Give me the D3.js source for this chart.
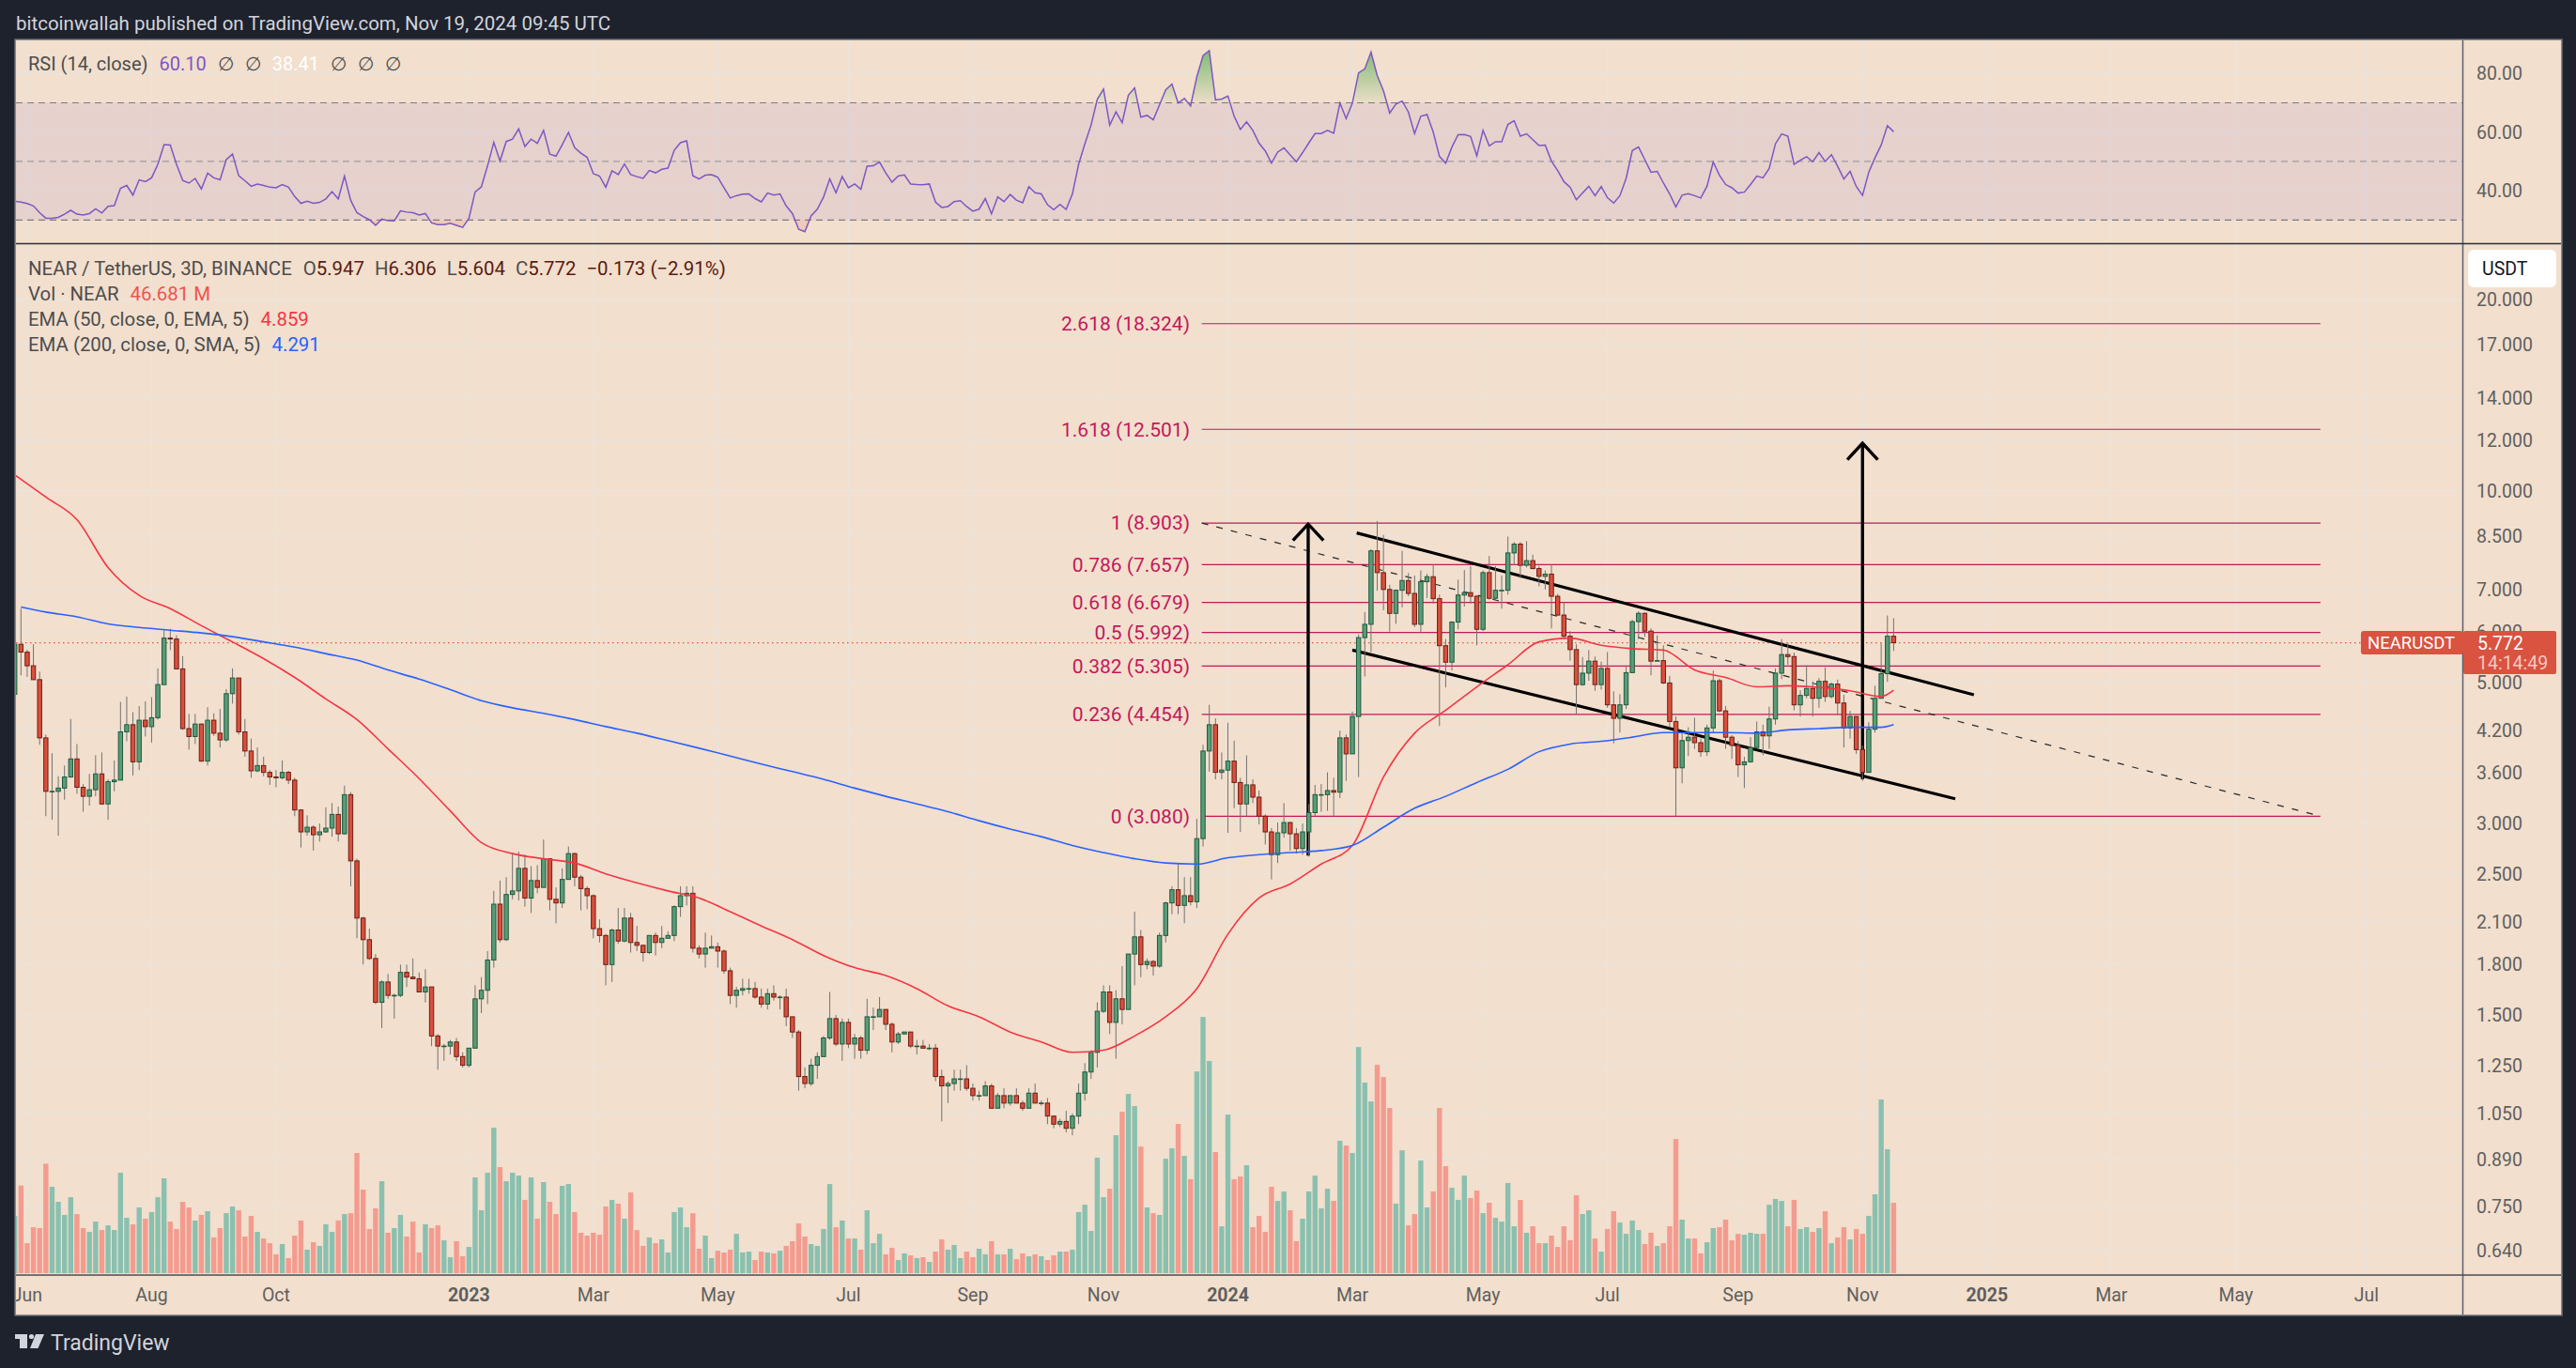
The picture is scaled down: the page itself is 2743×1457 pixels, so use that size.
<!DOCTYPE html>
<html>
<head>
<meta charset="utf-8">
<script src="https://d3js.org/d3.v7.min.js"></script>
<style>
  html, body { margin: 0; padding: 0; background: #1e222d; }
  svg { display: block; }
  text { font-family: Roboto, "Liberation Sans", sans-serif; }
</style>
</head>
<body>
<svg id="chart"></svg>
<script>
var width = 2743;
var height = 1457;

// NEAR / USDT, 3 day bars. opens follow the previous close
var firstOpen = 4.79;
var closes = [5.74,5.58,5.31,5.05,4.09,3.37,3.37,3.41,3.55,3.79,3.42,3.31,3.39,3.59,3.22,3.49,3.51,4.18,4.29,3.75,4.36,4.26,4.40,4.96,5.87,5.85,5.25,4.23,4.11,4.30,3.76,4.36,4.16,4.06,4.80,5.08,4.18,3.90,3.63,3.70,3.61,3.55,3.54,3.61,3.51,3.15,2.91,2.96,2.88,2.91,2.95,3.10,2.89,3.33,2.62,2.13,1.97,1.84,1.57,1.69,1.61,1.61,1.75,1.72,1.71,1.63,1.66,1.39,1.34,1.34,1.36,1.29,1.25,1.33,1.59,1.64,1.83,2.24,1.97,2.32,2.35,2.55,2.29,2.44,2.38,2.64,2.28,2.25,2.45,2.69,2.47,2.37,2.31,2.05,2.00,1.80,2.04,1.96,2.13,1.95,1.93,1.88,2.00,1.95,
  1.98,2.00,2.22,2.31,2.33,1.91,1.87,1.91,1.92,1.89,1.76,1.61,1.64,1.65,1.65,1.60,1.56,1.62,1.60,1.60,1.49,1.41,1.20,1.17,1.25,1.29,1.38,1.48,1.35,1.46,1.35,1.38,1.32,1.49,1.49,1.53,1.45,1.36,1.40,1.41,1.34,1.34,1.33,1.33,1.20,1.16,1.17,1.19,1.19,1.15,1.12,1.12,1.16,1.07,1.12,1.09,1.12,1.09,1.07,1.13,1.09,1.09,1.04,1.01,1.02,0.995,1.04,1.13,1.22,1.31,1.52,1.63,1.46,1.59,1.53,1.87,1.99,1.80,1.82,1.79,2.00,2.25,2.36,2.23,2.31,2.26,
  2.84,3.90,4.29,3.61,3.64,3.76,3.48,3.22,3.45,3.30,3.08,2.91,2.68,2.90,3.01,2.89,2.74,2.91,3.12,3.33,3.33,3.38,3.36,4.09,3.86,4.42,5.88,6.17,8.05,7.44,7.00,6.42,6.98,7.23,6.90,6.17,7.20,7.33,6.77,5.71,5.38,6.22,6.86,6.92,6.83,6.06,7.44,6.78,6.98,6.98,7.99,8.25,7.64,7.77,7.55,7.34,7.40,6.83,6.38,5.91,5.63,
  4.96,5.17,5.40,4.96,5.26,4.61,4.39,4.61,5.18,6.23,6.42,6.02,5.40,5.41,4.99,4.34,3.67,4.05,4.10,4.02,3.89,4.24,5.03,4.51,4.10,3.98,3.71,3.75,3.95,4.18,4.12,4.38,5.17,5.53,5.49,4.61,4.77,4.89,4.72,5.02,4.75,4.97,4.64,4.24,4.42,3.92,3.61,4.22,4.72,5.16,5.91,5.772];
var highs = [5.85,6.53,5.63,5.74,5.20,4.14,3.87,3.56,3.70,4.38,4.00,3.46,3.59,3.84,3.88,3.52,3.77,4.66,4.75,4.49,4.59,4.67,4.74,5.26,6.04,6.07,5.93,5.50,4.46,4.46,4.31,4.57,4.47,4.54,4.88,5.26,5.08,4.38,4.08,3.95,3.82,3.64,3.64,3.77,3.63,3.54,3.16,3.09,2.98,3.00,3.18,3.23,3.19,3.44,3.36,2.64,2.14,2.05,1.87,1.70,1.74,1.62,1.80,1.80,1.84,1.75,1.77,1.66,1.40,1.35,1.37,1.38,1.31,1.33,1.67,1.72,1.89,2.35,2.44,2.47,2.70,2.71,2.68,2.57,2.58,2.83,2.64,2.38,2.55,2.76,2.70,2.49,2.39,2.32,2.12,2.01,2.05,2.21,2.21,2.17,2.07,1.93,2.00,2.02,
  2.07,2.03,2.23,2.39,2.39,2.39,1.93,2.02,2.00,1.95,1.90,1.78,1.66,1.71,1.71,1.69,1.65,1.65,1.67,1.61,1.65,1.49,1.42,1.24,1.28,1.31,1.39,1.63,1.50,1.48,1.48,1.40,1.39,1.59,1.54,1.60,1.53,1.46,1.41,1.41,1.41,1.37,1.37,1.35,1.35,1.23,1.18,1.23,1.23,1.25,1.17,1.14,1.18,1.17,1.13,1.15,1.12,1.15,1.10,1.15,1.17,1.10,1.11,1.04,1.03,1.06,1.05,1.17,1.26,1.32,1.57,1.67,1.67,1.64,1.79,1.87,2.18,2.04,1.84,1.83,2.02,2.26,2.39,2.60,2.47,2.47,
  3.05,3.99,4.61,4.39,3.88,4.32,4.05,3.54,3.84,3.52,3.38,3.10,2.95,3.01,3.23,3.02,2.95,3.00,3.22,3.45,3.46,3.61,3.54,4.20,4.14,4.50,5.95,6.45,8.10,8.97,8.53,7.12,7.00,8.05,7.43,7.36,7.50,7.41,7.67,6.87,5.85,6.24,7.25,7.51,7.62,6.85,7.50,7.90,7.62,7.36,8.48,8.31,8.31,8.34,7.94,7.62,7.50,7.67,6.89,6.68,6.02,
  5.74,5.48,5.62,5.49,5.39,5.58,4.84,4.79,5.31,6.27,6.47,6.44,6.08,5.93,5.72,5.12,4.42,4.17,4.25,4.40,4.08,4.29,5.22,5.07,4.59,4.13,4.04,3.82,4.10,4.34,4.29,4.58,5.26,5.85,5.77,5.57,4.86,5.32,5.02,5.08,5.28,5.00,5.05,4.78,4.51,4.42,3.98,4.33,4.94,5.76,6.37,6.306];
var lows = [4.71,5.13,5.10,5.05,3.99,3.08,3.04,2.87,3.27,3.54,3.34,3.13,3.20,3.31,3.21,3.04,3.37,3.51,4.04,3.57,3.64,4.11,4.02,4.37,4.96,5.62,5.24,4.21,3.92,4.00,3.75,3.70,4.12,3.95,4.03,4.63,4.14,3.82,3.54,3.61,3.56,3.45,3.42,3.52,3.46,3.08,2.75,2.87,2.72,2.81,2.90,2.86,2.81,2.88,2.39,1.98,1.80,1.83,1.56,1.43,1.59,1.48,1.60,1.66,1.71,1.63,1.57,1.34,1.23,1.27,1.30,1.27,1.24,1.24,1.33,1.51,1.56,1.78,1.95,1.96,2.28,2.27,2.22,2.17,2.33,2.38,2.19,2.09,2.21,2.45,2.39,2.19,2.20,1.98,1.95,1.67,1.69,1.94,1.95,1.88,1.89,1.82,1.87,1.86,
  1.91,1.98,1.96,2.14,2.23,1.88,1.84,1.78,1.91,1.78,1.74,1.56,1.54,1.61,1.62,1.59,1.54,1.53,1.58,1.53,1.44,1.38,1.14,1.15,1.16,1.19,1.29,1.37,1.34,1.27,1.33,1.28,1.28,1.30,1.42,1.49,1.42,1.31,1.35,1.40,1.33,1.30,1.33,1.32,1.18,1.02,1.09,1.14,1.14,1.14,1.10,1.10,1.12,1.07,1.07,1.07,1.08,1.09,1.06,1.07,1.09,1.08,1.01,0.995,1.00,0.98,0.97,1.01,1.10,1.19,1.24,1.51,1.40,1.28,1.45,1.53,1.67,1.72,1.77,1.73,1.78,1.95,2.16,2.16,2.09,2.23,
  2.21,2.76,3.62,3.52,3.52,2.90,3.17,2.91,3.08,3.23,2.99,2.78,2.45,2.60,2.85,2.72,2.69,2.68,2.66,3.08,3.13,3.14,3.08,3.29,3.50,3.87,3.55,5.11,5.58,6.97,6.49,6.01,6.18,6.56,6.83,6.11,5.99,6.79,6.65,4.27,4.91,5.22,6.06,6.58,6.65,5.72,6.02,6.75,6.72,6.53,6.87,7.64,7.29,7.58,7.53,7.08,7.00,6.08,6.37,5.85,5.41,
  4.45,4.94,5.03,4.85,4.87,4.56,4.01,4.17,4.54,5.18,5.85,5.90,5.13,5.40,4.97,4.25,3.08,3.47,3.83,3.93,3.82,3.83,4.17,4.49,3.93,3.79,3.55,3.41,3.74,3.94,3.84,3.93,4.29,5.06,5.33,4.52,4.42,4.72,4.42,4.56,4.66,4.72,4.44,3.95,4.08,3.86,3.50,3.61,4.17,4.72,5.01,5.604];

// volume in millions of NEAR
var volumes = [38.0,58.1,19.9,30.5,29.9,72.6,57.3,47.3,38.6,50.4,39.2,29.9,27.4,34.2,28.6,31.7,28.6,66.6,36.7,32.4,43.6,36.1,40.5,50.4,62.9,34.2,29.3,47.3,43.6,34.9,38.6,41.1,23.7,29.9,39.8,44.2,41.7,24.3,38.0,27.4,23.0,19.9,12.5,19.3,10.0,24.9,34.9,15.6,20.5,18.1,32.4,27.4,34.9,39.2,39.8,79.7,55.4,29.3,43.0,61.0,26.8,29.9,38.6,24.3,34.2,13.7,32.4,29.9,31.7,21.8,10.6,21.2,11.2,17.4,63.5,41.7,66.6,96.5,70.3,61.0,66.6,64.7,48.6,63.5,36.1,60.4,47.3,39.2,57.9,59.1,40.5,26.8,24.9,26.8,25.5,44.2,48.6,46.1,36.1,53.5,28.6,18.1,23.7,19.9,22.4,13.7,40.5,43.6,30.5,39.8,16.2,24.9,10.0,14.9,13.7,15.6,26.1,13.7,14.3,8.7,14.3,13.7,13.1,14.9,18.1,21.2,33.0,24.3,19.3,18.1,29.3,59.1,30.5,34.9,23.0,23.0,15.6,41.7,19.9,26.1,12.5,16.8,8.7,13.1,11.8,10.0,10.6,7.5,14.3,
  22.4,15.6,18.7,10.0,14.3,10.6,16.2,12.5,21.2,12.5,12.5,16.2,9.3,13.1,11.2,12.5,11.2,8.7,11.8,14.3,14.3,15.6,40.5,45.4,28.0,76.6,50.4,56.0,91.5,107.1,118.9,110.8,84.0,43.6,39.8,38.6,75.9,82.8,99.0,77.8,62.3,133.8,169.9,140.7,80.3,31.1,105.2,62.3,64.1,71.6,30.5,38.0,27.4,57.3,47.9,54.2,41.7,21.2,36.1,54.2,64.7,43.0,56.0,47.9,87.8,84.7,79.7,150.0,126.4,113.9,138.2,130.1,109.6,46.1,81.5,31.7,39.2,74.7,43.6,54.2,109.6,71.0,56.6,48.6,64.7,49.8,54.8,39.8,46.7,36.7,34.2,59.8,31.1,48.6,26.8,31.1,19.9,19.9,24.9,17.4,31.1,21.8,51.7,39.2,41.7,23.0,14.3,29.3,41.1,33.6,26.1,34.9,28.6,19.3,26.8,18.1,19.9,31.1,89.0,35.5,23.0,23.0,13.1,20.5,29.9,30.5,35.5,21.8,26.1,25.5,26.8,26.1,26.1,45.4,49.2,47.9,31.1,48.6,29.3,30.5,27.4,29.9,41.1,19.9,23.7,30.5,22.4,29.3,26.1,38.0,52.3,115.2,82.2,46.7];

// RSI (14, close)
var rsi = [36.4,36.1,35.6,34.8,32.5,30.6,30.6,30.9,32.0,33.3,32.0,31.7,32.2,33.8,32.4,34.7,34.9,40.8,41.8,38.5,43.7,43.1,44.4,49.0,55.7,55.6,49.0,43.5,42.6,44.2,40.6,46.0,44.4,43.7,50.6,52.5,45.1,43.4,41.5,42.3,41.8,41.2,41.0,42.1,41.2,38.0,35.7,36.4,35.7,36.0,37.2,39.7,37.2,45.0,36.7,32.5,31.2,30.1,28.2,30.3,29.8,29.7,33.1,32.7,32.5,31.7,32.2,29.0,28.4,28.4,28.9,28.2,27.5,30.5,39.6,41.3,48.5,56.5,50.1,56.8,57.6,61.1,55.1,57.6,56.2,60.6,52.5,51.8,55.7,59.9,54.7,52.8,51.4,45.8,45.0,41.2,46.8,45.5,49.1,45.5,44.8,44.2,46.9,46.1,47.3,47.7,53.8,56.4,57.0,45.1,44.0,45.3,45.5,44.6,41.0,37.5,38.3,38.8,38.9,37.3,36.2,39.2,38.5,38.9,34.8,32.2,26.8,26.0,31.4,33.7,37.8,
  44.0,39.3,44.8,41.0,42.3,40.5,48.4,48.5,49.8,46.1,42.9,45.0,45.4,42.3,42.1,42.0,42.3,36.1,34.3,34.6,36.3,36.6,34.6,33.0,33.7,37.3,32.1,37.9,36.3,38.7,36.8,35.9,41.4,39.3,38.9,35.2,33.5,35.3,33.6,38.9,49.0,56.0,62.4,71.2,74.7,62.4,66.9,63.2,72.6,75.1,65.1,65.7,64.2,69.3,74.4,76.4,69.9,71.5,68.9,78.9,86.1,87.8,71.0,71.3,72.3,65.4,60.9,63.5,60.6,56.2,53.6,49.4,53.2,54.6,52.2,49.9,53.0,56.3,59.5,
  59.5,60.6,59.6,69.9,64.6,69.9,80.2,81.6,87.3,79.3,74.1,66.5,69.6,70.6,66.9,59.5,65.4,66.0,60.0,51.7,49.4,54.9,59.1,59.2,58.5,51.9,60.6,55.3,56.7,56.7,62.6,63.9,58.6,59.4,57.4,55.4,55.6,50.1,46.9,43.1,41.2,36.9,39.2,41.5,38.3,41.4,37.6,35.8,38.3,44.2,53.7,54.9,50.6,46.3,46.6,42.6,38.9,34.5,38.5,39.0,38.3,37.5,41.5,49.8,45.3,42.1,41.0,39.2,39.5,42.1,45.0,44.4,47.6,56.0,59.4,58.6,49.0,50.4,51.6,49.9,53.0,50.0,52.3,48.3,44.0,46.6,41.4,38.4,46.3,51.2,55.6,62.2,60.1];

// EMA values, read every 5th bar, the last one at the final bar
var ema50 = [10.6,9.78,9.01,7.58,6.85,6.53,6.14,5.79,5.45,5.09,4.71,4.37,3.93,3.53,3.14,2.80,2.69,2.64,2.60,2.50,2.42,2.35,2.29,2.18,2.07,1.97,1.86,1.78,1.73,1.65,1.55,1.49,1.41,1.36,1.31,1.32,1.39,1.49,1.65,2.01,2.29,2.41,2.59,2.77,3.55,4.16,4.52,4.92,5.33,5.79,5.87,5.72,5.65,5.62,5.23,5.09,4.92,4.94,4.91,4.85,4.75,4.859];
var ema200 = [6.57,6.45,6.34,6.18,6.10,6.04,5.98,5.90,5.79,5.68,5.55,5.42,5.23,5.06,4.87,4.68,4.56,4.47,4.37,4.26,4.16,4.05,3.94,3.83,3.72,3.62,3.52,3.41,3.31,3.22,3.13,3.03,2.94,2.86,2.77,2.70,2.64,2.60,2.59,2.65,2.68,2.70,2.72,2.77,2.96,3.17,3.31,3.48,3.65,3.89,4.00,4.04,4.10,4.17,4.17,4.17,4.16,4.21,4.23,4.25,4.25,4.291];

// axes
var priceTicks = [20,17,14,12,10,8.5,7,6,5,4.2,3.6,3,2.5,2.1,1.8,1.5,1.25,1.05,0.89,0.75,0.64];
var rsiTicks = [80,60,40];
var rsiBands = [70,50,30];
var timeLabels = ["Jun","Aug","Oct","2023","Mar","May","Jul","Sep","Nov","2024","Mar","May","Jul","Sep","Nov","2025","Mar","May","Jul"];
var timeBars = [2,22,42,73,93,113,134,154,175,195,215,236,256,277,297,317,337,357,378];

// fib retracement
var fibRatios = ["2.618","1.618","1","0.786","0.618","0.5","0.382","0.236","0"];
var fibPrices = [18.324,12.501,8.903,7.657,6.679,5.992,5.305,4.454,3.080];
var fibBars = [190.8,370.6];

// drawings as [bar, price]
var channelUpper = [[215.7,8.59],[314.9,4.78]];
var channelLower = [[215,5.62],[311.9,3.28]];
var fibDiagonal = [[190.8,8.903],[370.6,3.08]];
var arrowLeft = [[207.9,2.67],[207.9,8.87]];
var arrowLeftHead = [[205.45,8.36],[207.9,8.87],[210.35,8.36]];
var arrowRight = [[297,3.52],[297,11.89]];
var arrowRightHead = [[294.55,11.2],[297,11.89],[299.45,11.2]];

var lastClose = closes[closes.length - 1];
var opens = closes.map(function (d, i) { return i == 0 ? firstOpen : closes[i - 1]; });

var plot = { left: 17, right: 2622.5, top: 43, split: 259.5, bottom: 1358, frameRight: 2727, frameBottom: 1400 };

var bg = "#f2dfcd";
var dark = "#1e222d";
var gridColor = "#e9e4de";
var axisColor = "#5d606b";
var labelColor = "#5f5f5f";
var upFill = "#5a9b78", upEdge = "#1d5a3d";
var downFill = "#d94f3d", downEdge = "#6e1d14";
var fibColor = "#c2185b";

var x = d3.scaleLinear().domain([0, closes.length - 1]).range([15.7, 2016.4]);
var y = d3.scaleLog().domain([20, 0.64]).range([319, 1331.5]);
var yVol = d3.scaleLinear().domain([0, 170]).range([1356, 1083]);
var yRsi = d3.scaleLinear().domain([80, 30]).range([78.3, 234.3]);

var svg = d3.select("#chart").attr("width", width).attr("height", height);
svg.append("rect").attr("width", width).attr("height", height).attr("fill", dark);

var defs = svg.append("defs");
defs.append("clipPath").attr("id", "plotClip").append("rect")
  .attr("x", plot.left).attr("y", plot.top)
  .attr("width", plot.right - plot.left).attr("height", plot.bottom - plot.top);
defs.append("clipPath").attr("id", "timeClip").append("rect")
  .attr("x", plot.left).attr("y", plot.bottom)
  .attr("width", plot.right - plot.left).attr("height", plot.frameBottom - plot.bottom);
defs.append("clipPath").attr("id", "overClip").append("rect")
  .attr("x", plot.left).attr("y", plot.top)
  .attr("width", plot.right - plot.left).attr("height", yRsi(70) - plot.top);
defs.append("clipPath").attr("id", "underClip").append("rect")
  .attr("x", plot.left).attr("y", yRsi(30))
  .attr("width", plot.right - plot.left).attr("height", plot.split - yRsi(30));

var overGrad = defs.append("linearGradient").attr("id", "overGrad")
  .attr("gradientUnits", "userSpaceOnUse")
  .attr("x1", 0).attr("x2", 0).attr("y1", yRsi(88)).attr("y2", yRsi(70));
overGrad.append("stop").attr("offset", 0).attr("stop-color", "#7fbb72");
overGrad.append("stop").attr("offset", 1).attr("stop-color", "#7fbb72").attr("stop-opacity", 0.06);

// panel
svg.append("rect")
  .attr("x", plot.left - 1).attr("y", plot.top - 1)
  .attr("width", plot.frameRight - plot.left + 2).attr("height", plot.frameBottom - plot.top + 2)
  .attr("fill", bg).attr("stroke", "#6a6d78").attr("stroke-width", 1.5);

// grid
var grid = svg.append("g").attr("clip-path", "url(#plotClip)");
grid.selectAll(".vgrid").data(timeBars).enter().append("line")
  .attr("x1", function (d) { return x(d); }).attr("x2", function (d) { return x(d); })
  .attr("y1", plot.top).attr("y2", plot.bottom)
  .attr("stroke", gridColor).attr("stroke-width", 1.4);
grid.selectAll(".hgrid").data(priceTicks).enter().append("line")
  .attr("x1", plot.left).attr("x2", plot.right)
  .attr("y1", function (d) { return y(d); }).attr("y2", function (d) { return y(d); })
  .attr("stroke", gridColor).attr("stroke-width", 1.4);
grid.selectAll(".rgrid").data(rsiTicks).enter().append("line")
  .attr("x1", plot.left).attr("x2", plot.right)
  .attr("y1", function (d) { return yRsi(d); }).attr("y2", function (d) { return yRsi(d); })
  .attr("stroke", gridColor).attr("stroke-width", 1.4);

// rsi pane
var rsiPane = svg.append("g").attr("clip-path", "url(#plotClip)");
rsiPane.append("rect")
  .attr("x", plot.left).attr("width", plot.right - plot.left)
  .attr("y", yRsi(70)).attr("height", yRsi(30) - yRsi(70))
  .attr("fill", "#7e57c2").attr("opacity", 0.1);
rsiPane.selectAll(".band").data(rsiBands).enter().append("line")
  .attr("x1", plot.left).attr("x2", plot.right)
  .attr("y1", function (d) { return yRsi(d); }).attr("y2", function (d) { return yRsi(d); })
  .attr("stroke", function (d) { return d == 50 ? "#a09c9e" : "#787b86"; })
  .attr("stroke-width", 1.2)
  .attr("stroke-dasharray", "7 5");

var rsiAreaTop = d3.area()
  .x(function (d, i) { return x(i); })
  .y0(yRsi(70))
  .y1(function (d) { return yRsi(d); });
rsiPane.append("path").datum(rsi)
  .attr("d", rsiAreaTop)
  .attr("clip-path", "url(#overClip)")
  .attr("fill", "url(#overGrad)");
var rsiAreaLow = d3.area()
  .x(function (d, i) { return x(i); })
  .y0(yRsi(30))
  .y1(function (d) { return yRsi(d); });
rsiPane.append("path").datum(rsi)
  .attr("d", rsiAreaLow)
  .attr("clip-path", "url(#underClip)")
  .attr("fill", "#e57368").attr("opacity", 0.2);
rsiPane.append("path").datum(rsi)
  .attr("d", d3.line().x(function (d, i) { return x(i); }).y(function (d) { return yRsi(d); }))
  .attr("fill", "none").attr("stroke", "#7e57c2").attr("stroke-width", 1.5);

// main pane
var main = svg.append("g").attr("clip-path", "url(#plotClip)");

main.append("line")
  .attr("x1", plot.left).attr("x2", 2514)
  .attr("y1", y(lastClose)).attr("y2", y(lastClose))
  .attr("stroke", "#e8523f").attr("stroke-width", 1.2).attr("stroke-dasharray", "1.5 3.5");

var fibGroup = main.append("g");
fibGroup.selectAll("line").data(fibPrices).enter().append("line")
  .attr("x1", x(fibBars[0])).attr("x2", x(fibBars[1]))
  .attr("y1", function (d) { return y(d); }).attr("y2", function (d) { return y(d); })
  .attr("stroke", fibColor).attr("stroke-width", 1.2);
fibGroup.selectAll("text").data(fibPrices).enter().append("text")
  .attr("x", 1267)
  .attr("y", function (d) { return y(d); })
  .attr("dy", "0.35em")
  .attr("text-anchor", "end")
  .attr("font-size", 21)
  .attr("fill", fibColor)
  .text(function (d, i) { return fibRatios[i] + " (" + d.toFixed(3) + ")"; });

var drawLine = d3.line().x(function (d) { return x(d[0]); }).y(function (d) { return y(d[1]); });
main.append("path").attr("d", drawLine(fibDiagonal))
  .attr("fill", "none").attr("stroke", "#2a2a2a").attr("stroke-width", 1.2).attr("stroke-dasharray", "7 9");
[channelUpper, channelLower].forEach(function (pts) {
  main.append("path").attr("d", drawLine(pts))
    .attr("fill", "none").attr("stroke", "#000").attr("stroke-width", 3.2);
});
[arrowLeft, arrowLeftHead, arrowRight, arrowRightHead].forEach(function (pts) {
  main.append("path").attr("d", drawLine(pts))
    .attr("fill", "none").attr("stroke", "#000").attr("stroke-width", 3.4);
});

// volume
var volBarWidth = 5.4;
main.selectAll(".vol").data(volumes).enter().append("rect")
  .attr("x", function (d, i) { return x(i) - volBarWidth / 2; })
  .attr("width", volBarWidth)
  .attr("y", function (d) { return yVol(d); })
  .attr("height", function (d) { return yVol(0) - yVol(d); })
  .attr("fill", function (d, i) { return closes[i] >= opens[i] ? "#8ac0af" : "#f49b8f"; });

// candles
var bodyWidth = 4.4;
var candles = main.selectAll(".candle").data(closes).enter().append("g");
candles.append("line")
  .attr("x1", function (d, i) { return x(i); }).attr("x2", function (d, i) { return x(i); })
  .attr("y1", function (d, i) { return y(highs[i]); })
  .attr("y2", function (d, i) { return y(lows[i]); })
  .attr("stroke", "#727272").attr("stroke-width", 1);
candles.append("rect")
  .attr("x", function (d, i) { return x(i) - bodyWidth / 2; })
  .attr("width", bodyWidth)
  .attr("y", function (d, i) { return Math.min(y(d), y(opens[i])); })
  .attr("height", function (d, i) { return Math.max(Math.abs(y(d) - y(opens[i])), 0.6); })
  .attr("fill", function (d, i) { return d >= opens[i] ? upFill : downFill; })
  .attr("stroke", function (d, i) { return d >= opens[i] ? upEdge : downEdge; })
  .attr("stroke-width", 1);

// moving averages
function emaBar(i, count, start) {
  if (i == 0) return start;
  if (i == count - 1) return closes.length - 1;
  return i * 5;
}
var emaPath = d3.line().curve(d3.curveMonotoneX);
main.append("path")
  .attr("d", emaPath(ema50.map(function (d, i) { return [x(emaBar(i, ema50.length, 0)), y(d)]; })))
  .attr("fill", "none").attr("stroke", "#f23645").attr("stroke-width", 1.6);
main.append("path")
  .attr("d", emaPath(ema200.map(function (d, i) { return [x(emaBar(i, ema200.length, 1)), y(d)]; })))
  .attr("fill", "none").attr("stroke", "#2962ff").attr("stroke-width", 1.6);

// separators
var seps = svg.append("g").attr("stroke", axisColor).attr("stroke-width", 1.5);
seps.append("line").attr("x1", plot.right).attr("x2", plot.right).attr("y1", plot.top).attr("y2", plot.frameBottom);
seps.append("line").attr("x1", plot.left).attr("x2", plot.frameRight).attr("y1", plot.bottom).attr("y2", plot.bottom).attr("stroke", "#4a4c55");
seps.append("line").attr("x1", plot.left).attr("x2", plot.frameRight).attr("y1", plot.split).attr("y2", plot.split).attr("stroke", "#2a2e39");

// price axis
var axisText = svg.append("g").attr("font-size", 19.5).attr("fill", labelColor);
axisText.selectAll(".ptick").data(priceTicks).enter().append("text")
  .attr("x", 2637)
  .attr("y", function (d) { return y(d); })
  .attr("dy", "0.36em")
  .text(function (d) { return d.toFixed(3); });
axisText.selectAll(".rtick").data(rsiTicks).enter().append("text")
  .attr("x", 2637)
  .attr("y", function (d) { return yRsi(d); })
  .attr("dy", "0.36em")
  .text(function (d) { return d.toFixed(2); });

// time axis
svg.append("g").attr("clip-path", "url(#timeClip)")
  .selectAll("text").data(timeLabels).enter().append("text")
  .attr("x", function (d, i) { return x(timeBars[i]); })
  .attr("y", 1379)
  .attr("dy", "0.35em")
  .attr("text-anchor", "middle")
  .attr("font-size", 19.5)
  .attr("font-weight", function (d) { return d.length == 4 ? 700 : 400; })
  .attr("fill", labelColor)
  .text(function (d) { return d; });

// price tags
svg.append("rect").attr("x", 2628).attr("y", 266).attr("width", 94).attr("height", 40)
  .attr("rx", 6).attr("fill", "#fff");
svg.append("text").attr("x", 2643).attr("y", 286).attr("dy", "0.36em")
  .attr("font-size", 19.5).attr("fill", "#131722").text("USDT");

svg.append("rect").attr("x", 2623).attr("y", 672).attr("width", 99).attr("height", 46)
  .attr("rx", 2).attr("fill", "#d95340");
svg.append("rect").attr("x", 2514).attr("y", 672).attr("width", 109).attr("height", 25)
  .attr("rx", 3).attr("fill", "#d95340");
svg.append("text").attr("x", 2521).attr("y", y(lastClose)).attr("dy", "0.36em")
  .attr("font-size", 18.5).attr("fill", "#fff").text("NEARUSDT");
svg.append("text").attr("x", 2638).attr("y", y(lastClose)).attr("dy", "0.36em")
  .attr("font-size", 19.5).attr("fill", "#fff").text(lastClose.toFixed(3));
svg.append("text").attr("x", 2638).attr("y", 706).attr("dy", "0.36em")
  .attr("font-size", 19.5).attr("fill", "#f5c9c2").text("14:14:49");

// legends
function legendRow(ypos, size, parts) {
  var t = svg.append("text").attr("x", 30).attr("y", ypos).attr("dy", "0.36em").attr("font-size", size);
  parts.forEach(function (p) {
    var s = t.append("tspan").attr("fill", p[1]).text(p[0]);
    if (p[2]) s.attr("dx", p[2]);
  });
}
var legendGrey = "#4d4d4d";
var ohlcColor = "#5a1a12";
legendRow(68, 20, [["RSI (14, close)", legendGrey], ["60.10", "#7e57c2", 12], ["∅", legendGrey, 12], ["∅", legendGrey, 12], ["38.41", "#ffffff", 12], ["∅", legendGrey, 12], ["∅", legendGrey, 12], ["∅", legendGrey, 12]]);
legendRow(286, 20.4, [["NEAR / TetherUS, 3D, BINANCE", legendGrey], ["O", legendGrey, 12], ["5.947", ohlcColor], ["H", legendGrey, 11], ["6.306", ohlcColor], ["L", legendGrey, 11], ["5.604", ohlcColor], ["C", legendGrey, 11], ["5.772", ohlcColor], ["−0.173 (−2.91%)", ohlcColor, 11]]);
legendRow(313, 20.4, [["Vol · NEAR", legendGrey], ["46.681 M", "#f0534f", 12]]);
legendRow(340, 20.4, [["EMA (50, close, 0, EMA, 5)", legendGrey], ["4.859", "#f23645", 12]]);
legendRow(367, 20.4, [["EMA (200, close, 0, SMA, 5)", legendGrey], ["4.291", "#2962ff", 12]]);

// header and footer
svg.append("text").attr("x", 17).attr("y", 25).attr("dy", "0.36em")
  .attr("font-size", 20.5).attr("fill", "#d1d4dc")
  .text("bitcoinwallah published on TradingView.com, Nov 19, 2024 09:45 UTC");

var logo = svg.append("g").attr("fill", "#d1d4dc");
logo.append("rect").attr("x", 16).attr("y", 1421).attr("width", 13).attr("height", 5);
logo.append("rect").attr("x", 21).attr("y", 1421).attr("width", 8).attr("height", 15);
logo.append("circle").attr("cx", 33.5).attr("cy", 1423.5).attr("r", 2.6);
logo.append("path").attr("d", "M38 1421 H47 L40.5 1436 H32 Z");
svg.append("text").attr("x", 54).attr("y", 1430).attr("dy", "0.36em")
  .attr("font-size", 23).attr("fill", "#d1d4dc").text("TradingView");
</script>
</body>
</html>
